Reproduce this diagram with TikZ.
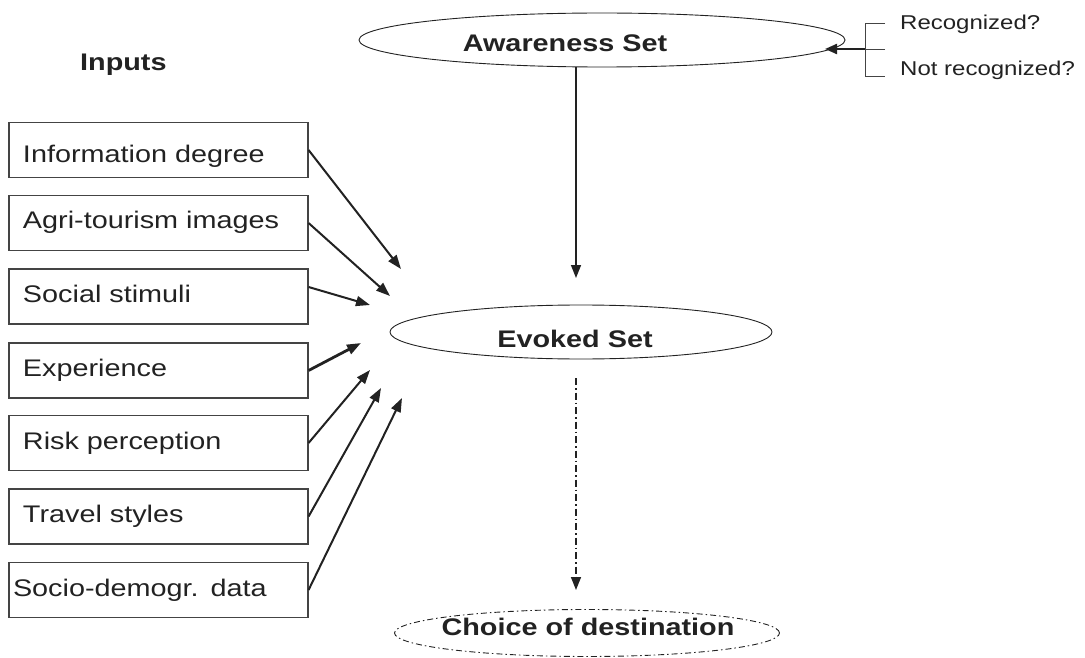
\documentclass[tikz,border=0pt]{standalone}
\usepackage{fontspec}
\setmainfont{Liberation Sans}[FakeStretch=1.2]
\usetikzlibrary{shapes.geometric,arrows.meta}
\definecolor{ink}{HTML}{222222}
\definecolor{edge}{HTML}{444444}
\begin{document}
\begin{tikzpicture}[x=1pt,y=-1pt,
  inbox/.style={draw=edge, line width=1.1pt, rectangle, minimum width=299pt, minimum height=55pt,
    text width=271pt, inner xsep=14pt, inner ysep=0pt, align=left,
    font=\fontsize{24}{28}\selectfont, text height=17pt, text depth=5pt, text=ink},
  oval/.style={draw=ink, line width=0.9pt, ellipse, inner sep=0pt},
  big/.style={font=\fontsize{24}{28}\selectfont\bfseries, text=ink, inner sep=0pt, anchor=base},
  small/.style={font=\fontsize{20}{24}\selectfont, text=ink, inner sep=0pt, anchor=base west},
  feed/.style={draw=ink, line width=2pt, -{Triangle[length=14pt,width=10pt]}},
  flow/.style={draw=ink, line width=1.5pt, -{Triangle[length=13pt,width=10pt]}},
  brk/.style={draw=edge, line width=0.9pt}
]
\useasboundingbox (0,0) rectangle (1085,658);

% title
\node[big, anchor=base west] (inp) at (80,71) {Inputs};

% input boxes
\node[inbox, text height=31pt] (b1) at (158.5,150) {Information degree};
\node[inbox] (b2) at (158.5,223) {Agri-tourism images};
\node[inbox] (b3) at (158.5,296.5) {Social stimuli};
\node[inbox] (b4) at (158.5,370.5) {Experience};
\node[inbox] (b5) at (158.5,443) {Risk perception};
\node[inbox] (b6) at (158.5,516.5) {Travel styles};
\node[inbox, inner xsep=4pt, text width=291pt] (b7) at (158.5,590) {Socio-demogr. data};

% ellipses
\node[oval, minimum width=486pt, minimum height=54pt] (awE) at (602,40) {};
\node[big] (awT) at (565,52) {Awareness Set};
\node[oval, minimum width=382pt, minimum height=54pt] (evE) at (581,332) {};
\node[big] (evT) at (575,347) {Evoked Set};
\node[oval, minimum width=385pt, minimum height=47pt,
      dash pattern=on 6pt off 3pt on 1.5pt off 3pt] (chE) at (587,633) {};
\node[big] (chT) at (588,635) {Choice of destination};

% arrow targets
\coordinate (e1) at (401,269);
\coordinate (e2) at (390,296);
\coordinate (e3) at (370,305);
\coordinate (e4) at (361,343);
\coordinate (e5) at (370,370);
\coordinate (e6) at (381,388);
\coordinate (e7) at (402,398);

\draw[feed] (b1.east) -- (e1);
\draw[feed] (b2.east) -- (e2);
\draw[feed] ([yshift=9.5pt]b3.east) -- (e3);
\draw[feed, line width=2.8pt] (b4.east) -- (e4);
\draw[feed] (b5.east) -- (e5);
\draw[feed] (b6.east) -- (e6);
\draw[feed] (b7.east) -- (e7);

% vertical flow
\coordinate (v1) at (576,278);
\coordinate (v2) at (576,378);
\coordinate (v3) at (576,590);
\draw[flow] (v1 |- awE.south) -- (v1);
\draw[flow, dash pattern=on 7pt off 3pt on 1.5pt off 3pt] (v2) -- (v3);

% recognition bracket
\node[small] (rec) at (900,30) {Recognized?};
\node[small] (nrec) at (900,76) {Not recognized?};
\coordinate (bt1) at (885,23);
\coordinate (bt2) at (865,23);
\coordinate (bb2) at (865,76);
\coordinate (bb1) at (885,76);
\coordinate (bm) at (885,49);
\coordinate (bj) at (865,49);
\coordinate (at) at (825,49);
\draw[brk] (bt1) -- (bt2) -- (bb2) -- (bb1);
\draw[brk] (bm) -- (bj);
\draw[draw=ink, line width=2.2pt, -{Triangle[length=12pt,width=10pt]}] (bj) -- (at);
\end{tikzpicture}
\end{document}
